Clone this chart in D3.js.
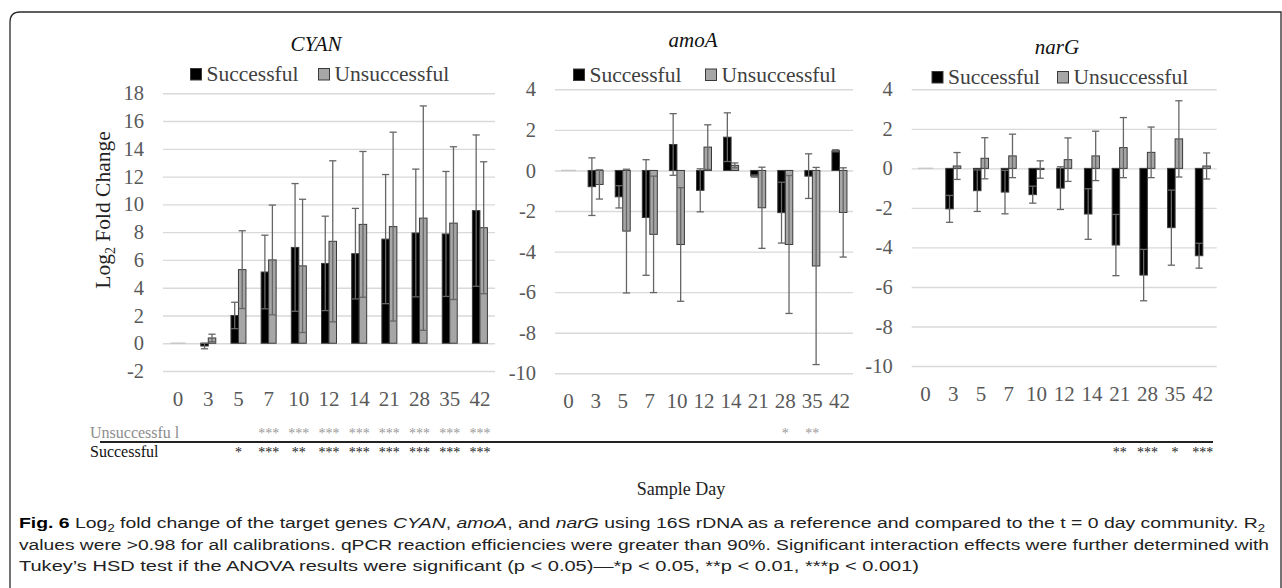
<!DOCTYPE html>
<html>
<head>
<meta charset="utf-8">
<script src="https://cdn.jsdelivr.net/npm/d3@7"></script>
<style>
  body { margin: 0; background: #fff; }
  svg { display: block; }
</style>
</head>
<body>
<div id="wrapper"></div>
<script>
// sample days (x categories)
const days = ["0", "3", "5", "7", "10", "12", "14", "21", "28", "35", "42"]
const series = ["Successful", "Unsuccessful"]

// log2 fold change, mean and error
const cyanSucc     = [0, -0.2, 2.0, 5.13, 6.9, 5.75, 6.45, 7.5, 7.94, 7.87, 9.55]
const cyanSuccErr  = [0, 0.2, 0.95, 2.65, 4.6, 3.4, 3.26, 4.65, 4.6, 4.5, 5.45]
const cyanUnsucc    = [0, 0.38, 5.3, 6.0, 5.57, 7.34, 8.56, 8.4, 9.01, 8.65, 8.32]
const cyanUnsuccErr = [0, 0.27, 2.8, 3.95, 4.8, 5.8, 5.25, 6.8, 8.08, 5.5, 4.75]

const amoaSucc     = [0, -0.8, -1.3, -2.32, 1.28, -0.98, 1.64, -0.28, -2.08, -0.28, 0.97]
const amoaSuccErr  = [0, 1.42, 0.55, 2.85, 1.52, 1.06, 1.2, 0.05, 1.5, 1.1, 0.05]
const amoaUnsucc    = [0, -0.69, -2.99, -3.15, -3.65, 1.15, 0.25, -1.84, -3.65, -4.71, -2.07]
const amoaUnsuccErr = [0, 0.72, 3.05, 2.87, 2.8, 1.1, 0.12, 2.0, 3.4, 4.86, 2.2]

const nargSucc     = [0, -2.05, -1.13, -1.2, -1.33, -1.0, -2.31, -3.88, -5.4, -3.0, -4.42]
const nargSuccErr  = [0, 0.68, 1.05, 1.1, 0.43, 1.08, 1.28, 1.55, 1.3, 1.9, 0.63]
const nargUnsucc    = [0, 0.12, 0.51, 0.63, -0.06, 0.44, 0.63, 1.05, 0.81, 1.49, 0.12]
const nargUnsuccErr = [0, 0.68, 1.04, 1.1, 0.44, 1.1, 1.25, 1.52, 1.28, 1.93, 0.66]

// y tick values
const cyanTicks = [-2, 0, 2, 4, 6, 8, 10, 12, 14, 16, 18]
const smallTicks = [-10, -8, -6, -4, -2, 0, 2, 4]

// significance stars under each day
const cyanSigUnsucc = ["", "", "", "***", "***", "***", "***", "***", "***", "***", "***"]
const cyanSigSucc   = ["", "", "*", "***", "**", "***", "***", "***", "***", "***", "***"]
const amoaSigUnsucc = ["", "", "", "", "", "", "", "", "*", "**", ""]
const nargSigSucc   = ["", "", "", "", "", "", "", "**", "***", "*", "***"]

const serif = "'Liberation Serif', 'Times New Roman', serif"
const W = 1282, H = 588

const svg = d3.select("#wrapper").append("svg")
    .attr("width", W)
    .attr("height", H)

// figure frame
svg.append("path")
    .attr("d", "M10,700 V22 Q10,12 20,12 H1281 V700")
    .attr("fill", "none")
    .attr("stroke", "#2a2a2a")
    .attr("stroke-width", 1.3)

function drawPanel(p) {
    const g = svg.append("g")
    const x = d3.scaleBand().domain(days).range([p.x0, p.x1])
    const y = d3.scaleLinear().domain(p.domain).range([p.yBottom, p.yTop])
    const bw = 7.5
    const xs = d3.scaleBand().domain(series)
        .range([x.bandwidth() / 2 - bw, x.bandwidth() / 2 + bw])

    // gridlines + y labels
    const ya = g.append("g")
        .attr("transform", "translate(" + p.x0 + ",0)")
        .call(d3.axisLeft(y).tickValues(p.ticks).tickSize(-(p.x1 - p.x0))
            .tickPadding(19).tickFormat(d => String(d)))
    ya.select(".domain").remove()
    ya.selectAll("line").attr("stroke", "#d9d9d9").attr("stroke-width", 1.4)
    ya.selectAll("text")
        .attr("font-family", serif)
        .attr("font-size", 20.5)
        .attr("fill", "#595959")

    // x labels
    const xa = g.append("g")
        .attr("transform", "translate(0," + p.yBottom + ")")
        .call(d3.axisBottom(x).tickSize(0).tickPadding(20))
    xa.select(".domain").remove()
    xa.selectAll("text")
        .attr("font-family", serif)
        .attr("font-size", 21)
        .attr("fill", "#595959")

    const rows = []
    days.forEach((d, i) => {
        rows.push({day: d, s: "Successful", v: p.succ[i], e: p.succErr[i]})
        rows.push({day: d, s: "Unsuccessful", v: p.unsucc[i], e: p.unsuccErr[i]})
    })

    // day 0 shows only a faint stub on the zero line
    g.append("g").selectAll("line")
        .data(rows.filter(r => r.v === 0))
        .join("line")
        .attr("x1", r => x(r.day) + xs(r.s))
        .attr("x2", r => x(r.day) + xs(r.s) + bw)
        .attr("y1", y(0)).attr("y2", y(0))
        .attr("stroke", "#c8c8c8")
        .attr("stroke-width", 1.5)

    g.append("g").selectAll("rect")
        .data(rows.filter(r => r.v !== 0))
        .join("rect")
        .attr("x", r => x(r.day) + xs(r.s))
        .attr("width", bw)
        .attr("y", r => y(Math.max(0, r.v)))
        .attr("height", r => Math.abs(y(r.v) - y(0)))
        .attr("fill", r => r.s === "Successful" ? "#000" : "#a6a6a6")
        .attr("stroke", "#3a3a3a")
        .attr("stroke-width", 1)

    // error bars
    const eb = g.append("g").selectAll("g")
        .data(rows.filter(r => r.e > 0))
        .join("g")
        .attr("stroke", "#666")
        .attr("stroke-width", 1.3)
    const cx = r => x(r.day) + xs(r.s) + bw / 2
    eb.append("line")
        .attr("x1", cx).attr("x2", cx)
        .attr("y1", r => y(r.v - r.e)).attr("y2", r => y(r.v + r.e))
    eb.append("line")
        .attr("x1", r => cx(r) - 3.6).attr("x2", r => cx(r) + 3.6)
        .attr("y1", r => y(r.v + r.e)).attr("y2", r => y(r.v + r.e))
    eb.append("line")
        .attr("x1", r => cx(r) - 3.6).attr("x2", r => cx(r) + 3.6)
        .attr("y1", r => y(r.v - r.e)).attr("y2", r => y(r.v - r.e))

    // title
    g.append("text")
        .attr("x", p.titleX)
        .attr("y", p.titleY)
        .attr("text-anchor", "middle")
        .attr("font-family", serif)
        .attr("font-style", "italic")
        .attr("font-size", 21)
        .attr("fill", "#111")
        .text(p.title)

    // legend
    const lg = g.append("g")
    series.forEach((s, i) => {
        const lx = p.legendX[i]
        lg.append("rect")
            .attr("x", lx)
            .attr("y", p.legendY - 12.5)
            .attr("width", 11)
            .attr("height", 11.5)
            .attr("fill", i === 0 ? "#000" : "#a6a6a6")
            .attr("stroke", "#3a3a3a")
            .attr("stroke-width", 1)
        lg.append("text")
            .attr("x", lx + 16)
            .attr("y", p.legendY)
            .attr("font-family", serif)
            .attr("font-size", 21.5)
            .attr("fill", "#404040")
            .text(s)
    })

    // significance stars
    const star = (arr, yy, col) => {
        if (!arr) return
        g.append("g").selectAll("text")
            .data(days.map((d, i) => ({day: d, t: arr[i]})).filter(o => o.t))
            .join("text")
            .attr("x", o => x(o.day) + x.bandwidth() / 2)
            .attr("y", yy)
            .attr("text-anchor", "middle")
            .attr("font-family", serif)
            .attr("font-size", 14)
            .attr("fill", col)
            .text(o => o.t)
    }
    star(p.sigUnsucc, 438, "#9a9a9a")
    star(p.sigSucc, 457, "#222")
}

drawPanel({
    x0: 163, x1: 495, yTop: 93.3, yBottom: 371, domain: [-2, 18], ticks: cyanTicks,
    succ: cyanSucc, succErr: cyanSuccErr, unsucc: cyanUnsucc, unsuccErr: cyanUnsuccErr,
    title: "CYAN", titleX: 316, titleY: 51,
    legendX: [190.5, 318.5], legendY: 81,
    sigUnsucc: cyanSigUnsucc, sigSucc: cyanSigSucc
})
drawPanel({
    x0: 555, x1: 853, yTop: 89.3, yBottom: 373.3, domain: [-10, 4], ticks: smallTicks,
    succ: amoaSucc, succErr: amoaSuccErr, unsucc: amoaUnsucc, unsuccErr: amoaUnsuccErr,
    title: "amoA", titleX: 693, titleY: 46.5,
    legendX: [573.5, 705.5], legendY: 81.5,
    sigUnsucc: amoaSigUnsucc
})
drawPanel({
    x0: 911.7, x1: 1216.7, yTop: 89.3, yBottom: 366, domain: [-10, 4], ticks: smallTicks,
    succ: nargSucc, succErr: nargSuccErr, unsucc: nargUnsucc, unsuccErr: nargUnsuccErr,
    title: "narG", titleX: 1057, titleY: 54,
    legendX: [932, 1057.5], legendY: 84,
    sigSucc: nargSigSucc
})

// y axis title
const yt = svg.append("text")
    .attr("transform", "translate(110,210) rotate(-90)")
    .attr("text-anchor", "middle")
    .attr("font-family", serif)
    .attr("font-size", 21.5)
    .attr("fill", "#222")
yt.append("tspan").text("Log")
yt.append("tspan").attr("font-size", 14).attr("dy", 5).text("2")
yt.append("tspan").attr("dy", -5).text(" Fold Change")

// significance row labels and divider
svg.append("text")
    .attr("x", 90).attr("y", 438)
    .attr("font-family", serif).attr("font-size", 16)
    .attr("fill", "#8c8c8c")
    .text("Unsuccessfu l")
svg.append("line")
    .attr("x1", 100).attr("x2", 1213)
    .attr("y1", 442).attr("y2", 442)
    .attr("stroke", "#222").attr("stroke-width", 1.8)
svg.append("text")
    .attr("x", 90).attr("y", 457)
    .attr("font-family", serif).attr("font-size", 16)
    .attr("fill", "#111")
    .text("Successful")

svg.append("text")
    .attr("x", 681).attr("y", 495)
    .attr("text-anchor", "middle")
    .attr("font-family", serif).attr("font-size", 18)
    .attr("fill", "#222")
    .text("Sample Day")

// caption
const capFont = "'Liberation Sans Narrow', 'Arial Narrow', 'Liberation Sans', sans-serif"
function capLine(yy, len, parts) {
    const t = svg.append("text")
        .attr("x", 19).attr("y", yy)
        .attr("font-family", capFont)
        .attr("font-size", 15.5)
        .attr("fill", "#222")
        .attr("textLength", len)
        .attr("lengthAdjust", "spacingAndGlyphs")
    parts.forEach(pt => {
        const s = t.append("tspan").text(pt.t)
        if (pt.b) s.attr("font-weight", "bold").attr("fill", "#000")
        if (pt.i) s.attr("font-style", "italic")
        if (pt.sub) s.attr("font-size", 10.5).attr("dy", 4)
        if (pt.up) s.attr("dy", -4)
    })
}
capLine(528, 1246, [
    {t: "Fig. 6", b: true},
    {t: "  Log"}, {t: "2", sub: true},
    {t: " fold change of the target genes ", up: true}, {t: "CYAN", i: true}, {t: ", "},
    {t: "amoA", i: true}, {t: ", and "}, {t: "narG", i: true},
    {t: " using 16S rDNA as a reference and compared to the t = 0 day community. R"},
    {t: "2", sub: true}
])
capLine(550, 1250, [
    {t: "values were >0.98 for all calibrations. qPCR reaction efficiencies were greater than 90%. Significant interaction effects were further determined with"}
])
capLine(571, 900, [
    {t: "Tukey\u2019s HSD test if the ANOVA results were significant (p < 0.05)\u2014*p < 0.05, **p < 0.01, ***p < 0.001)"}
])
</script>
</body>
</html>
